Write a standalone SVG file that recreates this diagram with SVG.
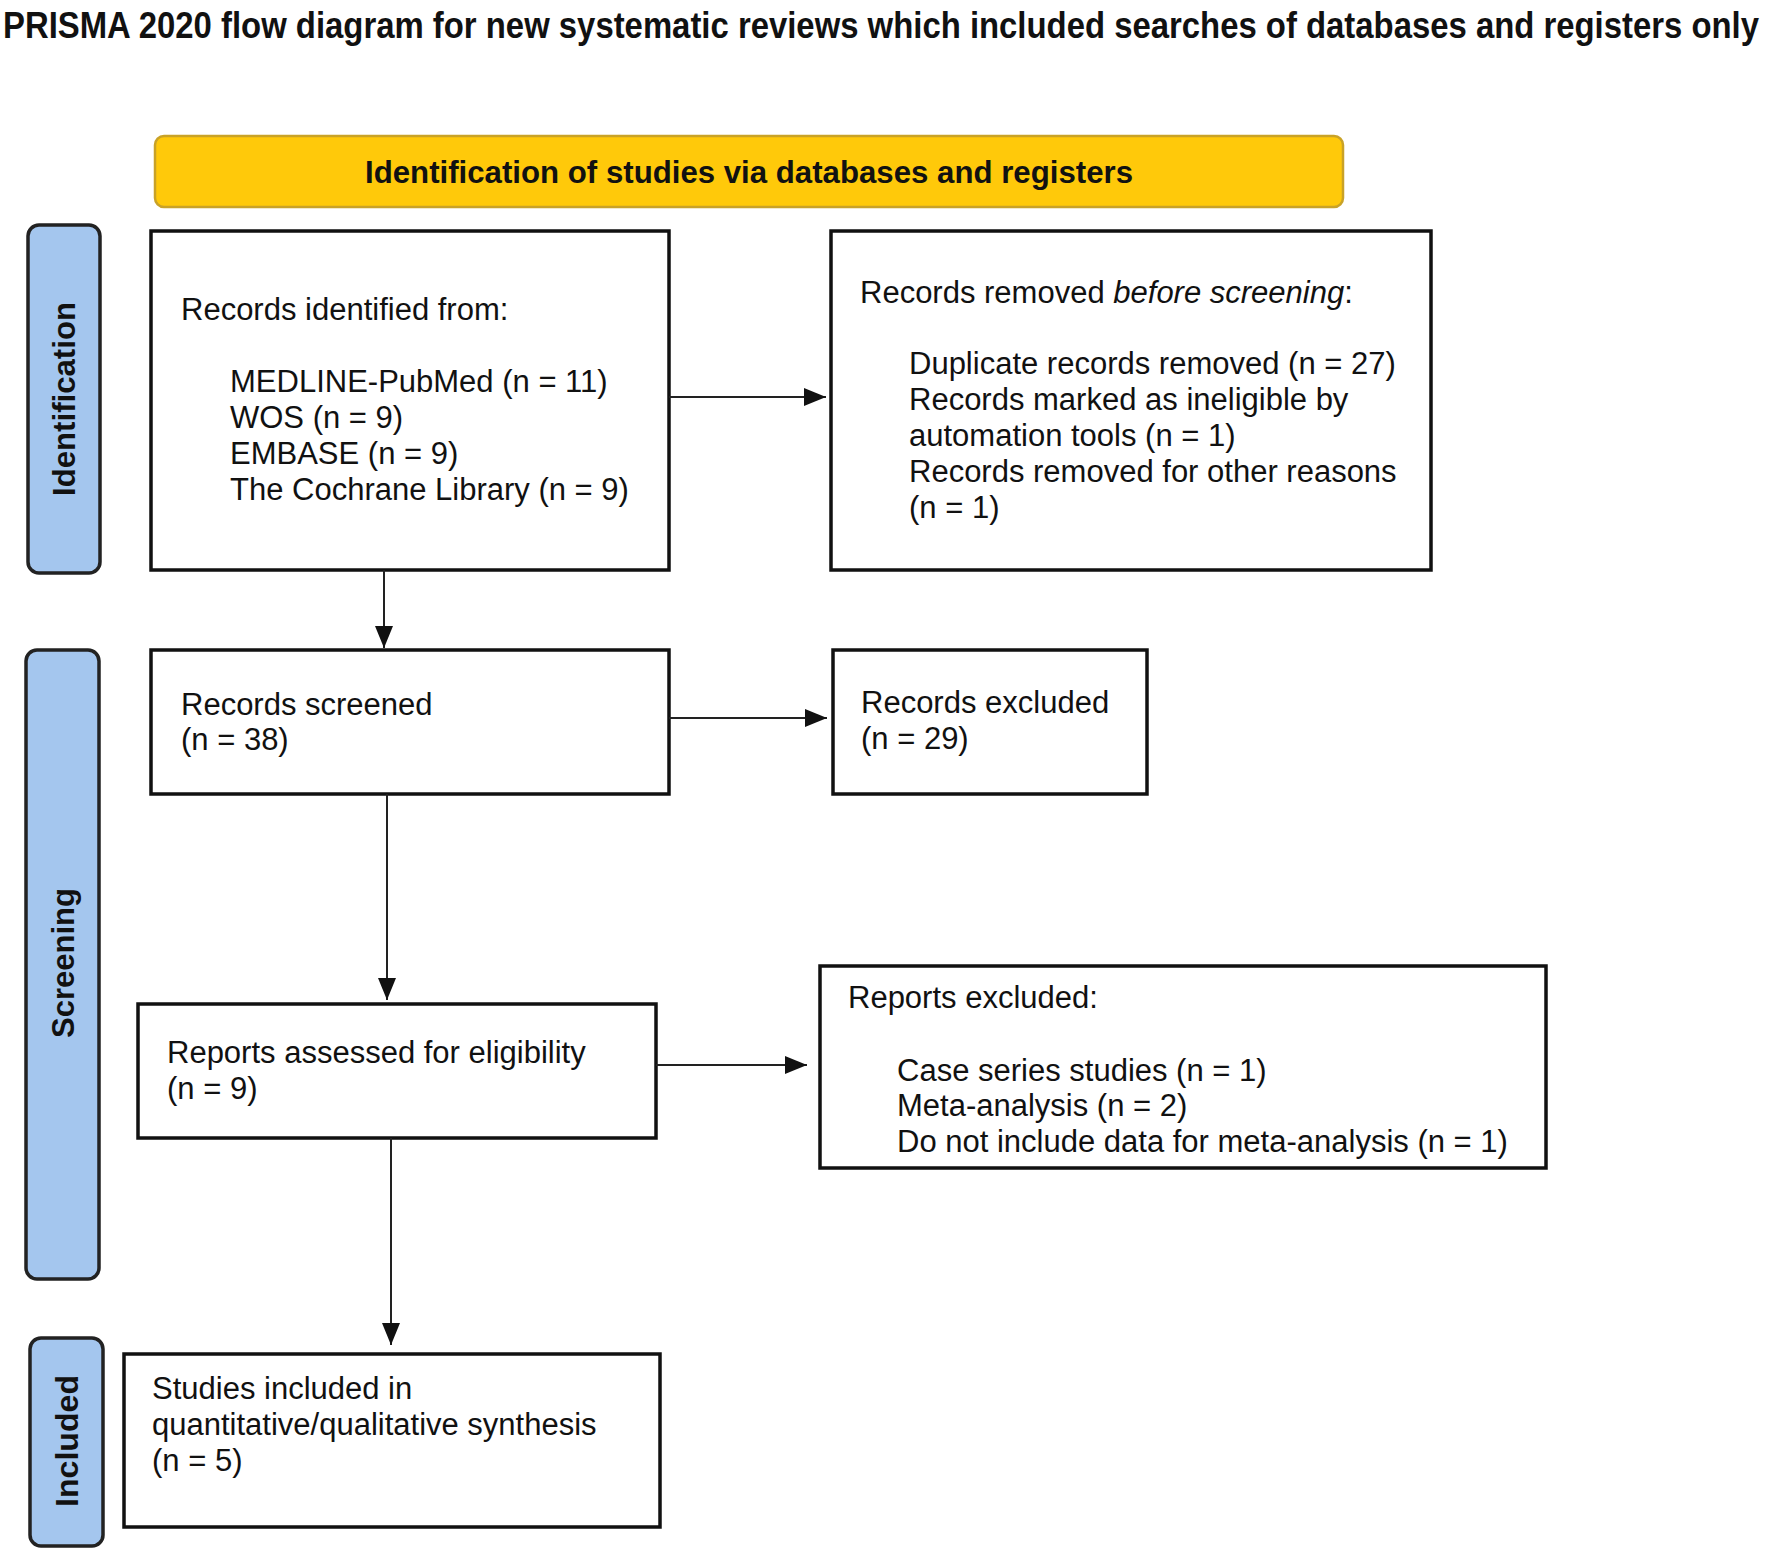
<svg xmlns="http://www.w3.org/2000/svg" width="1770" height="1548" viewBox="0 0 1770 1548">
<style>
  .box{fill:#fff;stroke:#111;stroke-width:3.5}
  .side{fill:#a4c6ee;stroke:#222;stroke-width:3.5}
  .hdr{fill:#ffc90a;stroke:#c9a227;stroke-width:2.5}
  .t{font-family:"Liberation Sans",Arial,sans-serif;font-size:31px;fill:#111}
  .st{font-family:"Liberation Sans",Arial,sans-serif;font-size:32px;font-weight:bold;fill:#111}
  .conn{stroke:#222;stroke-width:2;fill:none}
</style>
<defs>
  <marker id="ah" markerWidth="22" markerHeight="18" refX="22" refY="9" orient="auto" markerUnits="userSpaceOnUse">
    <path d="M0,0 L22,9 L0,18 Z" fill="#111"/>
  </marker>
</defs>
<rect width="1770" height="1548" fill="#fff"/>
<text transform="translate(3,38) scale(1,1.22)" x="0" y="0" font-family="Liberation Sans,Arial,sans-serif" font-weight="bold" font-size="31" fill="#111" textLength="1756" lengthAdjust="spacingAndGlyphs">PRISMA 2020 flow diagram for new systematic reviews which included searches of databases and registers only</text>

<g id="header">
  <rect class="hdr" x="155" y="136" width="1188" height="71" rx="9"/>
  <text x="749" y="183" text-anchor="middle" class="st" font-size="30" textLength="768" lengthAdjust="spacingAndGlyphs">Identification of studies via databases and registers</text>
</g>

<g id="side-identification">
  <rect class="side" x="28" y="225" width="72" height="348" rx="11"/>
  <text class="st" transform="translate(75,399) rotate(-90)" text-anchor="middle" textLength="194" lengthAdjust="spacingAndGlyphs">Identification</text>
</g>
<g id="side-screening">
  <rect class="side" x="26" y="650" width="73" height="629" rx="11"/>
  <text class="st" transform="translate(74,963) rotate(-90)" text-anchor="middle" textLength="150" lengthAdjust="spacingAndGlyphs">Screening</text>
</g>
<g id="side-included">
  <rect class="side" x="30" y="1338" width="73" height="208" rx="11"/>
  <text class="st" transform="translate(78,1441) rotate(-90)" text-anchor="middle" textLength="132" lengthAdjust="spacingAndGlyphs">Included</text>
</g>

<g id="records-identified">
  <rect class="box" x="151" y="231" width="518" height="339"/>
  <text class="t" x="181" y="320">Records identified from:</text>
  <text class="t" x="230" y="392">MEDLINE-PubMed (n = 11)</text>
  <text class="t" x="230" y="428">WOS (n = 9)</text>
  <text class="t" x="230" y="464">EMBASE (n = 9)</text>
  <text class="t" x="230" y="500">The Cochrane Library (n = 9)</text>
</g>

<g id="records-removed">
  <rect class="box" x="831" y="231" width="600" height="339"/>
  <text class="t" x="860" y="303">Records removed <tspan font-style="italic">before screening</tspan>:</text>
  <text class="t" x="909" y="374">Duplicate records removed (n = 27)</text>
  <text class="t" x="909" y="410">Records marked as ineligible by</text>
  <text class="t" x="909" y="446">automation tools (n = 1)</text>
  <text class="t" x="909" y="482">Records removed for other reasons</text>
  <text class="t" x="909" y="518">(n = 1)</text>
</g>

<g id="records-screened">
  <rect class="box" x="151" y="650" width="518" height="144"/>
  <text class="t" x="181" y="715">Records screened</text>
  <text class="t" x="181" y="750">(n = 38)</text>
</g>

<g id="records-excluded">
  <rect class="box" x="833" y="650" width="314" height="144"/>
  <text class="t" x="861" y="713">Records excluded</text>
  <text class="t" x="861" y="749">(n = 29)</text>
</g>

<g id="reports-assessed">
  <rect class="box" x="138" y="1004" width="518" height="134"/>
  <text class="t" x="167" y="1063">Reports assessed for eligibility</text>
  <text class="t" x="167" y="1099">(n = 9)</text>
</g>

<g id="reports-excluded">
  <rect class="box" x="820" y="966" width="726" height="202"/>
  <text class="t" x="848" y="1008">Reports excluded:</text>
  <text class="t" x="897" y="1081">Case series studies (n = 1)</text>
  <text class="t" x="897" y="1116">Meta-analysis (n = 2)</text>
  <text class="t" x="897" y="1152">Do not include data for meta-analysis (n = 1)</text>
</g>

<g id="studies-included">
  <rect class="box" x="124" y="1354" width="536" height="173"/>
  <text class="t" x="152" y="1399">Studies included in</text>
  <text class="t" x="152" y="1435">quantitative/qualitative synthesis</text>
  <text class="t" x="152" y="1471">(n = 5)</text>
</g>

<g id="connectors">
  <line class="conn" x1="669" y1="397" x2="826" y2="397" marker-end="url(#ah)"/>
  <line class="conn" x1="384" y1="570" x2="384" y2="648" marker-end="url(#ah)"/>
  <line class="conn" x1="669" y1="718" x2="827" y2="718" marker-end="url(#ah)"/>
  <line class="conn" x1="387" y1="794" x2="387" y2="1000" marker-end="url(#ah)"/>
  <line class="conn" x1="656" y1="1065" x2="807" y2="1065" marker-end="url(#ah)"/>
  <line class="conn" x1="391" y1="1138" x2="391" y2="1345" marker-end="url(#ah)"/>
</g>
</svg>
